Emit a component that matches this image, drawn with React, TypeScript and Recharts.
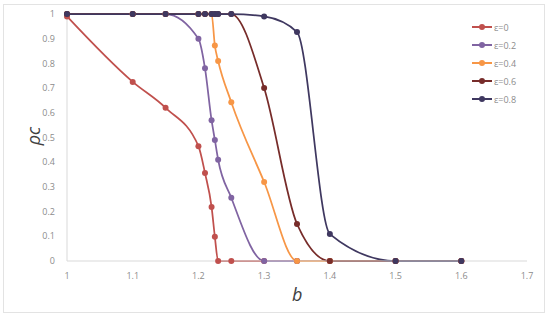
import { LineChart, Line, XAxis, YAxis } from "recharts";

const bValues = [1, 1.1, 1.15, 1.2, 1.21, 1.22, 1.225, 1.23, 1.25, 1.3, 1.35, 1.4, 1.5, 1.6];

const eps0 = [0.99, 0.725, 0.62, 0.465, 0.356, 0.219, 0.098, 0, 0, 0, 0, 0, 0, 0];
const eps02 = [1, 1, 1, 0.9, 0.78, 0.57, 0.49, 0.41, 0.256, 0, 0, 0, 0, 0];
const eps04 = [1, 1, 1, 1, 1, 1, 0.872, 0.81, 0.643, 0.32, 0, 0, 0, 0];
const eps06 = [1, 1, 1, 1, 1, 1, 1, 1, 1, 0.7, 0.15, 0, 0, 0];
const eps08 = [1, 1, 1, 1, 1, 1, 1, 1, 1, 0.99, 0.927, 0.109, 0, 0];

const xTicks = [1, 1.1, 1.2, 1.3, 1.4, 1.5, 1.6, 1.7];
const yTicks = [0, 0.1, 0.2, 0.3, 0.4, 0.5, 0.6, 0.7, 0.8, 0.9, 1];

const series = [
  { key: "e0", label: "ε=0", color: "#c0504d", values: eps0 },
  { key: "e2", label: "ε=0.2", color: "#8064a2", values: eps02 },
  { key: "e4", label: "ε=0.4", color: "#f79646", values: eps04 },
  { key: "e6", label: "ε=0.6", color: "#772c2a", values: eps06 },
  { key: "e8", label: "ε=0.8", color: "#3f3860", values: eps08 },
];

const data = bValues.map((b, i) => {
  const row: Record<string, number> = { b };
  for (const s of series) row[s.key] = s.values[i];
  return row;
});

const fmt = (v: number) => String(Math.round(v * 10) / 10);

function LegendBox() {
  return (
    <div style={{ position: "absolute", left: 472, top: 18, fontFamily: "Open Sans, sans-serif", fontSize: 9, color: "#8c8c8c" }}>
      {series.map(s => (
        <div key={s.key} style={{ display: "flex", alignItems: "center", height: 18 }}>
          <svg width={22} height={8}>
            <line x1={0} y1={4} x2={20} y2={4} stroke={s.color} strokeWidth={2} />
            <circle cx={10} cy={4} r={3} fill={s.color} />
          </svg>
          <span>{s.label}</span>
        </div>
      ))}
    </div>
  );
}

export default function App() {
  return (
    <div style={{ position: "absolute", left: 0, top: 0, width: 550, height: 316, background: "#fff" }}>
      <div style={{ position: "absolute", left: 3, top: 4, width: 540, height: 307, border: "1px solid #e3e3e3" }} />
      <LineChart width={550} height={316} data={data} margin={{ top: 14, right: 23, bottom: 25, left: 27 }}>
        <XAxis
          dataKey="b"
          type="number"
          domain={[1, 1.7]}
          ticks={xTicks}
          tickFormatter={fmt}
          tick={{ fontSize: 9, fill: "#8c8c8c", fontFamily: "Open Sans, sans-serif" }}
          axisLine={{ stroke: "#d9d9d9" }}
          tickLine={false}
          height={30}
          tickMargin={6}
        />
        <YAxis
          type="number"
          domain={[0, 1]}
          ticks={yTicks}
          tickFormatter={fmt}
          tick={{ fontSize: 9, fill: "#8c8c8c", fontFamily: "Open Sans, sans-serif" }}
          axisLine={{ stroke: "#d9d9d9" }}
          tickLine={false}
          width={40}
          tickMargin={6}
        />
        {series.map(s => (
          <Line
            key={s.key}
            type="monotone"
            dataKey={s.key}
            stroke={s.color}
            strokeWidth={1.75}
            dot={{ r: 3, fill: s.color, stroke: s.color, strokeWidth: 0 }}
            activeDot={false}
            isAnimationActive={false}
          />
        ))}
      </LineChart>
      <LegendBox />
      <div style={{ position: "absolute", left: 24, top: 124, transform: "rotate(-90deg)", fontFamily: "Open Sans, sans-serif", fontStyle: "italic", fontSize: 18, color: "#404040" }}>
        ρc
      </div>
      <div style={{ position: "absolute", left: 292, top: 282, fontFamily: "Open Sans, sans-serif", fontStyle: "italic", fontSize: 18, color: "#404040" }}>
        b
      </div>
    </div>
  );
}
